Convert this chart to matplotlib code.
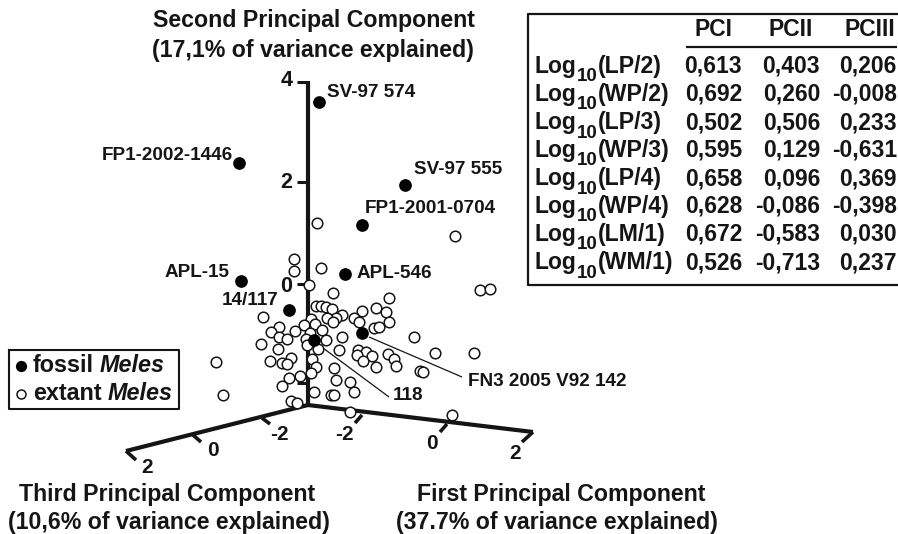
import matplotlib as mpl
mpl.use('Agg')
import matplotlib.pyplot as plt

# everything in screen pixels (projected 3D plot)
open_x = [317, 455, 294, 294, 321, 309, 333, 480, 490, 389, 316, 321, 326, 332, 342, 336, 327, 333,
          362, 376, 386, 389, 354, 359, 374, 379, 263, 311, 304, 315, 322, 310, 295, 279, 271, 279,
          287, 306, 326, 342, 414, 261, 307, 318, 278, 339, 358, 366, 372, 357, 363, 376, 388, 394,
          396, 435, 474, 420, 423, 216, 270, 291, 282, 287, 312, 316, 334, 311, 336, 289, 300, 282,
          350, 354, 314, 331, 334, 223, 291, 297, 350, 452]
open_y = [223, 236, 259, 271, 268, 285, 293, 290, 289, 298, 306, 306, 307, 309, 315, 318, 318, 322,
          311, 308, 312, 322, 318, 322, 328, 327, 317, 319, 325, 324, 330, 333, 331, 327, 332, 337,
          339, 339, 340, 337, 337, 344, 345, 349, 349, 350, 350, 352, 356, 355, 361, 367, 354, 359,
          366, 353, 353, 371, 372, 362, 361, 358, 363, 364, 359, 367, 368, 373, 380, 378, 376, 386,
          382, 392, 392, 395, 395, 395, 401, 403, 412, 415]
fossil_x = [319, 239, 405, 362, 345, 241, 289, 362, 314]
fossil_y = [102, 163, 185, 225, 274, 281, 310, 333, 340]

rows = ['LP/2', 'WP/2', 'LP/3', 'WP/3', 'LP/4', 'WP/4', 'LM/1', 'WM/1']
pc1 = ['0,613', '0,692', '0,502', '0,595', '0,658', '0,628', '0,672', '0,526']
pc2 = ['0,403', '0,260', '0,506', '0,129', '0,096', '-0,086', '-0,583', '-0,713']
pc3 = ['0,206', '-0,008', '0,233', '-0,631', '0,369', '-0,398', '0,030', '0,237']
row_y = [65, 93, 122, 149, 178, 205, 233, 262]

ink = '#151515'
plt.rcParams['font.family'] = ['Liberation Sans', 'DejaVu Sans']
plt.rcParams['font.weight'] = 'bold'

fig = plt.figure(figsize=(8.98, 5.34), dpi=100)
ax = fig.add_axes([0, 0, 1, 1])
ax.set_xlim(0, 898)
ax.set_ylim(534, 0)
ax.axis('off')


def seg(x0, y0, x1, y1, lw=3.0, color=ink):
    ax.plot([x0, x1], [y0, y1], color=color, lw=lw, solid_capstyle='butt', zorder=2)


def txt(x, y, s, size=11, ha='left', **kw):
    ax.text(x, y - 1.5, s, fontsize=size, ha=ha, va='center_baseline', color=ink, **kw)


# axes of the 3D plot
seg(308, 81, 308, 406)
seg(308, 405, 126, 451)
seg(308, 405, 533, 432)
for y in [82, 182, 284, 383]:
    seg(297, y, 309, y, lw=2.2)
seg(262, 418, 270, 424, lw=2.6)
seg(193, 435, 201, 442, lw=2.6)
seg(126, 451, 136, 460, lw=2.6)
seg(362, 415, 355, 423, lw=2.6)
seg(447, 424, 440, 432, lw=2.6)
seg(533, 432, 522, 442, lw=2.6)

# leader lines
seg(369, 337, 462, 377, lw=0.9)
seg(323, 348, 389, 397, lw=0.9)

ax.scatter(open_x, open_y, s=58, facecolor='white', edgecolor=ink, linewidth=1.1, zorder=3)
ax.scatter(fossil_x, fossil_y, s=66, color='black', zorder=4)

# tick labels
txt(287, 80, '4', size=15.5, ha='center')
txt(286, 182, '2', size=15.5, ha='center')
txt(286, 285, '0', size=15.5, ha='center')
txt(279, 434, '-2', size=15, ha='center')
txt(344, 434, '-2', size=15, ha='center')
txt(432, 443, '0', size=15, ha='center')
txt(515, 453, '2', size=15, ha='center')
txt(213, 450, '0', size=15, ha='center')
txt(147, 467, '2', size=15, ha='center')

# point labels
txt(327, 92, 'SV-97 574', size=13.6)
txt(102, 155, 'FP1-2002-1446', size=13.6)
txt(414, 169, 'SV-97 555', size=13.6)
txt(365, 208, 'FP1-2001-0704', size=13.6)
txt(357, 273, 'APL-546', size=13.6)
txt(165, 272, 'APL-15', size=13.6)
txt(222, 300, '14/117', size=13.6)
txt(468, 381, 'FN3 2005 V92 142', size=13.6)
txt(393, 395, '118', size=13.6)

# axis titles
txt(314, 20, 'Second Principal Component', size=16.7, ha='center')
txt(313, 49, '(17,1% of variance explained)', size=16.7, ha='center')
txt(167, 493, 'Third Principal Component', size=16.7, ha='center')
txt(169, 521, '(10,6% of variance explained)', size=16.7, ha='center')
txt(561, 493, 'First Principal Component', size=16.7, ha='center')
txt(557, 521, '(37.7% of variance explained)', size=16.7, ha='center')

# legend
ax.plot([9, 179, 179, 9, 9], [350, 350, 409, 409, 350], color=ink, lw=1.5)
ax.scatter([21], [366], s=50, color='black', zorder=4)
ax.scatter([21], [394], s=42, facecolor='white', edgecolor=ink, linewidth=1.1, zorder=4)
txt(33, 365, 'fossil', size=16.8)
txt(100, 365, 'Meles', size=16.8, style='italic')
txt(33, 393, 'extant', size=16.8)
txt(108, 393, 'Meles', size=16.8, style='italic')

# loadings table, open on the right like the crop in the reference
ax.plot([897, 528, 528, 897], [14, 14, 285, 285], color=ink, lw=1.6)
seg(686, 47, 897, 47, lw=1.6)
txt(714, 29, 'PCI', size=16.5, ha='center')
txt(791, 29, 'PCII', size=16.5, ha='center')
txt(870, 29, 'PCIII', size=16.5, ha='center')
for name, a, b, c, y in zip(rows, pc1, pc2, pc3, row_y):
    txt(534, y, 'Log', size=16.5)
    txt(577, y + 11, '10', size=13.5)
    txt(598, y, '(' + name + ')', size=16.7)
    txt(742, y, a, size=16.5, ha='right')
    txt(820, y, b, size=16.5, ha='right')
    txt(897, y, c, size=16.5, ha='right')

fig.savefig('out.png', dpi=100)
